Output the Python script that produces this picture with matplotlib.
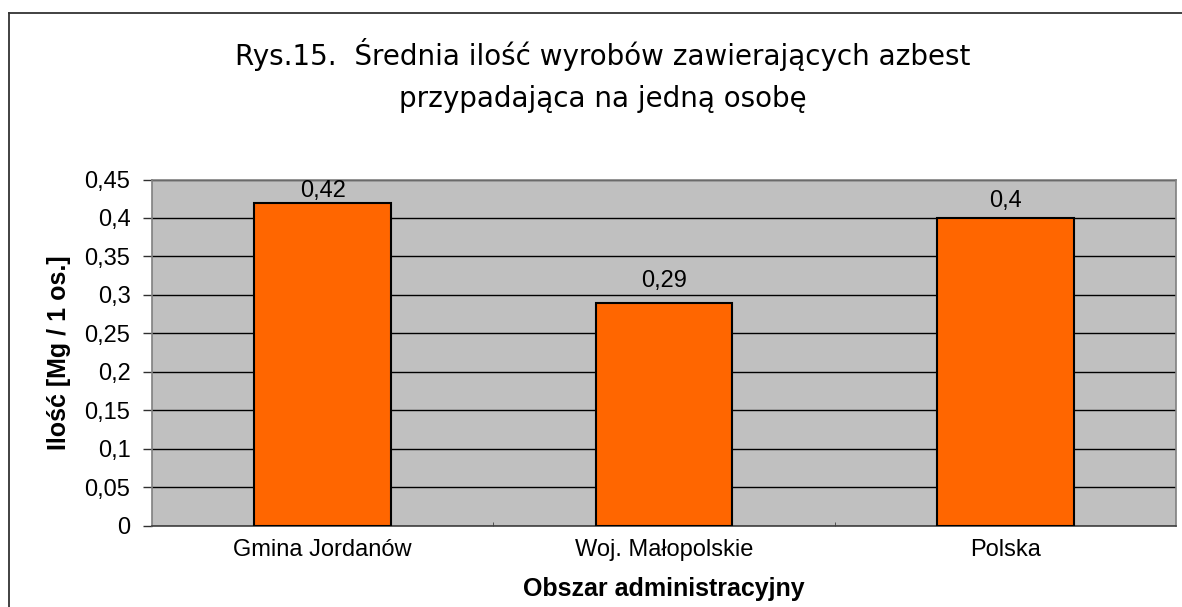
import matplotlib
matplotlib.use('Agg')
import matplotlib.pyplot as plt
from matplotlib.lines import Line2D

categories = ['Gmina Jordanów', 'Woj. Małopolskie', 'Polska']
values = [0.42, 0.29, 0.4]
value_labels = ['0,42', '0,29', '0,4']
y_ticks = [0, 0.05, 0.1, 0.15, 0.2, 0.25, 0.3, 0.35, 0.4, 0.45]
y_tick_labels = ['0', '0,05', '0,1', '0,15', '0,2', '0,25', '0,3', '0,35', '0,4', '0,45']
title_line1 = 'Rys.15.  Średnia ilość wyrobów zawierających azbest'
title_line2 = 'przypadająca na jedną osobę'

# gap between bar top and label baseline (Excel squeezes the ones near the top)
label_gap_pt = [4, 11, 8]

plt.rcParams['font.family'] = ['Liberation Sans', 'DejaVu Sans']

W, H = 1182, 607
fig = plt.figure(figsize=(W / 100, H / 100), dpi=100)
fig.patch.set_facecolor('white')

# outer chart border (cut at right and bottom)
fig.add_artist(Line2D([9.5 / W, 9.5 / W], [0, 1 - 12.5 / H], color='#333333', lw=1.3,
                      transform=fig.transFigure))
fig.add_artist(Line2D([9.5 / W, 1], [1 - 12.5 / H, 1 - 12.5 / H], color='#333333', lw=1.3,
                      transform=fig.transFigure))

ax = fig.add_axes([152 / W, 1 - 525.5 / H, 1024 / W, 346 / H])
ax.set_facecolor('#C0C0C0')

x = list(range(len(categories)))
bars = ax.bar(x, values, width=0.4, color='#FF6600', edgecolor='black', linewidth=1.5, zorder=3)

for b, lab, gap in zip(bars, value_labels, label_gap_pt):
    ax.annotate(lab, (b.get_x() + b.get_width() / 2, b.get_height()),
                xytext=(0, gap), textcoords='offset points', ha='center', va='baseline',
                fontsize=17, zorder=4)

ax.set_xlim(-0.5, len(categories) - 0.5)
ax.set_ylim(0, 0.45)
ax.set_yticks(y_ticks)
ax.set_yticklabels(y_tick_labels, fontsize=17)
ax.set_xticks(x)
ax.set_xticklabels(categories, fontsize=17)
ax.tick_params(axis='x', length=0, pad=10)
ax.tick_params(axis='y', length=6.5, width=1, color='#303030', pad=9)
ax.set_xticks([0.5, 1.5], minor=True)
ax.tick_params(axis='x', which='minor', length=3, direction='in', color='#404040')

ax.grid(axis='y', color='black', linewidth=1, zorder=1)
ax.set_axisbelow(True)
for s in ax.spines.values():
    s.set_color('#808080')
    s.set_linewidth(1.2)
ax.spines['bottom'].set_color('#404040')

ax.set_ylabel('Ilość [Mg / 1 os.]', fontsize=18, fontweight='bold', labelpad=10)
ax.set_xlabel('Obszar administracyjny', fontsize=18, fontweight='bold', labelpad=11)

fig.text(603 / W, 1 - 65 / H, title_line1, ha='center', va='baseline', fontsize=20,
         family='DejaVu Sans')
fig.text(603 / W, 1 - 107 / H, title_line2, ha='center', va='baseline', fontsize=20,
         family='DejaVu Sans')

fig.savefig('out.png', dpi=100)
